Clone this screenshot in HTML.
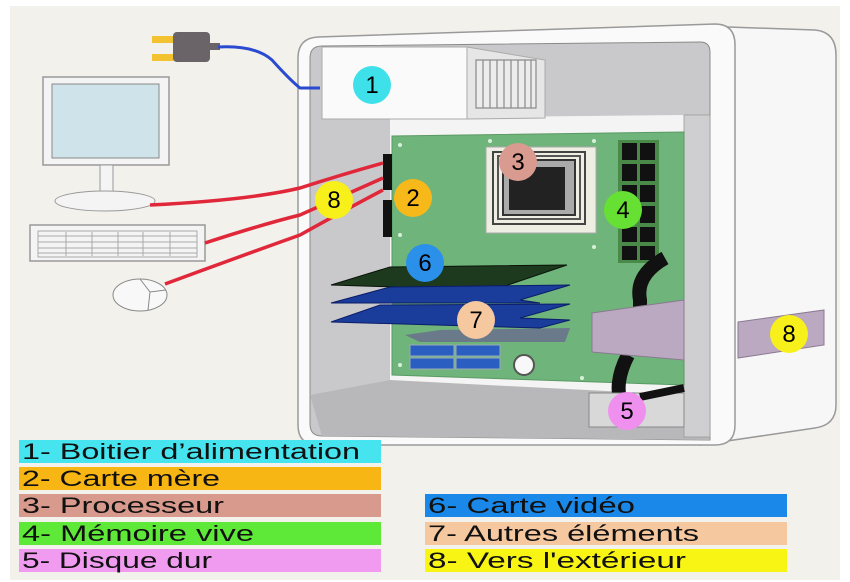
<!DOCTYPE html>
<html><head><meta charset="utf-8"><style>
html,body{margin:0;padding:0;background:#fff;}
svg{display:block;}
text{font-family:"Liberation Sans",sans-serif;}
</style></head><body>
<svg width="850" height="582" viewBox="0 0 850 582" xmlns="http://www.w3.org/2000/svg">
<rect x="10" y="6" width="830" height="574" fill="#f3f1ec"/>
<path d="M700 26 L815 30 Q836 32 836 55 L836 405 Q836 425 815 428 L700 445 Z" fill="#f7f7f7" stroke="#9a9a9a" stroke-width="1.5"/>
<path d="M318 37 L715 24 Q735 24 735 45 L735 425 Q735 445 715 445 L318 445 Q298 445 298 425 L298 58 Q298 38 318 37 Z" fill="#fafafa" stroke="#9a9a9a" stroke-width="1.5"/>
<path d="M322 46 L700 42 Q710 42 710 52 L710 440 L322 436 Q310 436 310 424 L310 58 Q310 46 322 46 Z" fill="#c9c9cb" stroke="#8a8a8a" stroke-width="1"/>
<polygon points="390,118 684,115 684,400 390,395" fill="#f4f4f4"/>
<polygon points="310,395 390,380 684,395 710,440 322,436" fill="#b8b8ba"/>
<rect x="684" y="115" width="26" height="322" fill="#cfcfd1" stroke="#999" stroke-width="0.8"/>
<rect x="322" y="47" width="145" height="72" fill="#fafafa" stroke="#aaa"/>
<polygon points="467,47 545,60 545,118 467,119" fill="#e6e6e6" stroke="#aaa"/>
<g stroke="#888" stroke-width="1.2" fill="#ececec"><rect x="476" y="60" width="60" height="48"/>
<line x1="483" y1="60" x2="483" y2="108"/><line x1="490" y1="60" x2="490" y2="108"/><line x1="497" y1="60" x2="497" y2="108"/><line x1="504" y1="60" x2="504" y2="108"/><line x1="511" y1="60" x2="511" y2="108"/><line x1="518" y1="60" x2="518" y2="108"/><line x1="525" y1="60" x2="525" y2="108"/><line x1="531" y1="60" x2="531" y2="108"/></g>
<polygon points="392,136 684,132 684,385 392,375" fill="#6fb47a" stroke="#5a9a64"/>
<g fill="#d8f0d8"><circle cx="400" cy="145" r="2"/><circle cx="490" cy="141" r="2"/><circle cx="594" cy="141" r="2"/><circle cx="400" cy="235" r="2"/><circle cx="594" cy="247" r="2"/><circle cx="400" cy="365" r="2"/><circle cx="582" cy="378" r="2"/></g>
<rect x="486" y="147" width="110" height="86" fill="#eeeee2" stroke="#aaa"/>
<rect x="493" y="152" width="92" height="72" fill="none" stroke="#444" stroke-width="2"/>
<rect x="498" y="156" width="82" height="63" fill="none" stroke="#555" stroke-width="2"/>
<rect x="503" y="160" width="72" height="55" fill="#aaa" stroke="#333" stroke-width="2"/>
<rect x="509" y="167" width="56" height="43" fill="#222"/>
<rect x="618" y="140" width="41" height="123" fill="#4a8a48"/>
<g fill="#111"><rect x="622" y="143" width="15" height="17"/><rect x="640" y="143" width="15" height="17"/><rect x="622" y="164" width="15" height="17"/><rect x="640" y="164" width="15" height="17"/><rect x="622" y="185" width="15" height="17"/><rect x="640" y="185" width="15" height="17"/><rect x="622" y="206" width="15" height="17"/><rect x="640" y="206" width="15" height="17"/><rect x="622" y="227" width="15" height="15"/><rect x="640" y="227" width="15" height="15"/><rect x="622" y="246" width="15" height="14"/><rect x="640" y="246" width="15" height="14"/></g>
<rect x="383" y="154" width="9" height="36" fill="#111"/>
<rect x="383" y="200" width="9" height="37" fill="#111"/>
<g fill="#2a5ec0" stroke="#9ab" stroke-width="1"><rect x="410" y="345" width="44" height="11"/><rect x="456" y="345" width="44" height="11"/><rect x="410" y="358" width="44" height="11"/><rect x="456" y="358" width="44" height="11"/></g>
<circle cx="524" cy="365" r="10" fill="#f8f8f8" stroke="#555" stroke-width="2"/>
<path d="M665 258 Q635 275 640 300 L640 315 M628 355 Q615 380 620 400" stroke="#111" stroke-width="14" fill="none"/>
<polygon points="592,313 684,300 684,360 592,352" fill="#bba9c2" stroke="#8a7a90"/>
<rect x="589" y="393" width="95" height="34" fill="#d8d8d8" stroke="#888"/>
<path d="M640 397 L684 388" stroke="#111" stroke-width="8"/>
<polygon points="331,285 390,267 567,265 493,290" fill="#1e3a1e" stroke="#0a140a"/>
<polygon points="331,303 390,287 570,285 520,300 540,303" fill="#1a3c9a" stroke="#0c1d6a"/>
<polygon points="331,322 380,305 570,304 520,318 570,320 540,328" fill="#1a3c9a" stroke="#0c1d6a"/>
<polygon points="405,335 440,330 570,328 565,342 420,342" fill="#6a7a8a"/>
<polygon points="738,322 824,310 824,345 738,358" fill="#bba9c2" stroke="#8a7a90"/>
<rect x="152" y="36" width="24" height="7" fill="#f2c230"/><rect x="152" y="54" width="24" height="7" fill="#f2c230"/>
<rect x="173" y="32" width="37" height="30" rx="4" fill="#6a6468"/>
<rect x="208" y="43" width="12" height="7" fill="#6a6468"/>
<path d="M218 47 Q255 45 272 60 Q290 80 300 88 L320 88" stroke="#2a4ad0" stroke-width="3" fill="none"/>
<rect x="43" y="77" width="126" height="88" fill="#f4f4f4" stroke="#999" stroke-width="1.5"/>
<rect x="52" y="84" width="107" height="74" fill="#cfe4ea" stroke="#888"/>
<rect x="100" y="165" width="13" height="32" fill="#f4f4f4" stroke="#999"/>
<ellipse cx="105" cy="201" rx="50" ry="10" fill="#f4f4f4" stroke="#999"/>
<rect x="30" y="225" width="175" height="36" fill="#f4f4f4" stroke="#999" stroke-width="1.5"/>
<g stroke="#aaa" stroke-width="1"><line x1="38" y1="236" x2="197" y2="236"/><line x1="38" y1="242" x2="197" y2="242"/><line x1="38" y1="248" x2="197" y2="248"/><line x1="38" y1="253" x2="197" y2="253"/>
<line x1="66" y1="232" x2="66" y2="256"/><line x1="92" y1="232" x2="92" y2="256"/><line x1="118" y1="232" x2="118" y2="256"/><line x1="143" y1="232" x2="143" y2="256"/><line x1="170" y1="232" x2="170" y2="256"/><rect x="38" y="231" width="159" height="26" fill="none"/></g>
<ellipse cx="140" cy="295" rx="27" ry="16" fill="#f8f8f8" stroke="#888"/>
<path d="M140 279 L150 292 L166 290 M150 292 L148 310" stroke="#888" fill="none"/>
<g stroke="#e0283a" stroke-width="3.5" fill="none">
<path d="M150 205 Q250 200 300 188 Q340 175 383 163"/>
<path d="M205 243 Q260 225 300 215 Q345 195 383 178"/>
<path d="M165 284 Q230 260 300 235 Q345 210 383 190"/>
</g>
<g font-size="24" text-anchor="middle">
<circle cx="372" cy="85" r="19" fill="#3ee0ea"/><text x="372" y="93">1</text>
<circle cx="413" cy="198" r="19" fill="#f7b81a"/><text x="413" y="206">2</text>
<circle cx="518" cy="162" r="19" fill="#d99a90"/><text x="518" y="170">3</text>
<circle cx="623" cy="210" r="19" fill="#66e032"/><text x="623" y="218">4</text>
<circle cx="627" cy="411" r="19" fill="#ef90ee"/><text x="627" y="419">5</text>
<circle cx="425" cy="263" r="19" fill="#2a90ea"/><text x="425" y="271">6</text>
<circle cx="476" cy="320" r="19" fill="#f6c8a0"/><text x="476" y="328">7</text>
<circle cx="334" cy="200" r="19" fill="#f8f01a"/><text x="334" y="208">8</text>
<circle cx="789" cy="334" r="19" fill="#f8f01a"/><text x="789" y="342">8</text>
</g>
<rect x="19" y="440" width="362" height="23" fill="#45e4ef"/>
<rect x="19" y="467" width="362" height="23" fill="#f8b614"/>
<rect x="19" y="494" width="362" height="23" fill="#d89a8c"/>
<rect x="19" y="522" width="362" height="23" fill="#5ee838"/>
<rect x="19" y="549" width="362" height="23" fill="#f09af0"/>
<rect x="425" y="494" width="362" height="23" fill="#1a88e8"/>
<rect x="425" y="522" width="362" height="23" fill="#f6c8a0"/>
<rect x="425" y="549" width="362" height="23" fill="#f8f414"/>
<g font-size="22" fill="#111">
<text x="22" y="459" textLength="338" lengthAdjust="spacingAndGlyphs">1- Boitier d’alimentation</text>
<text x="22" y="486" textLength="198" lengthAdjust="spacingAndGlyphs">2- Carte mère</text>
<text x="22" y="513" textLength="202" lengthAdjust="spacingAndGlyphs">3- Processeur</text>
<text x="22" y="541" textLength="232" lengthAdjust="spacingAndGlyphs">4- Mémoire vive</text>
<text x="22" y="568" textLength="190" lengthAdjust="spacingAndGlyphs">5- Disque dur</text>
<text x="428" y="513" textLength="207" lengthAdjust="spacingAndGlyphs">6- Carte vidéo</text>
<text x="428" y="541" textLength="271" lengthAdjust="spacingAndGlyphs">7- Autres éléments</text>
<text x="428" y="568" textLength="258" lengthAdjust="spacingAndGlyphs">8- Vers l'extérieur</text>
</g>
</svg>
</body></html>
